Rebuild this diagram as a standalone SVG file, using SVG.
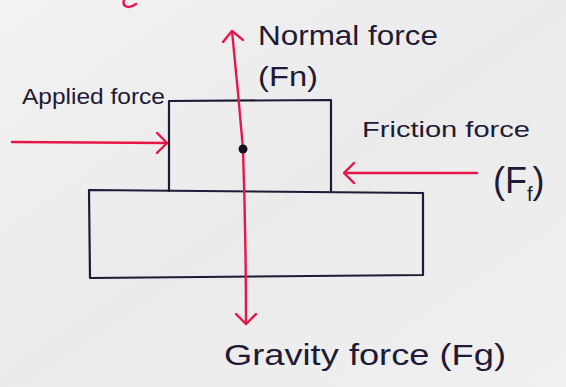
<svg xmlns="http://www.w3.org/2000/svg" width="566" height="387" viewBox="0 0 566 387">
  <defs>
    <marker id="head" viewBox="0 0 12 22" refX="11" refY="11" markerWidth="12" markerHeight="22" markerUnits="userSpaceOnUse" orient="auto">
      <path d="M0,0 L11,11 L0,22" fill="none" stroke="#e8174a" stroke-width="2.4" stroke-linecap="round" stroke-linejoin="round"/>
    </marker>
    <linearGradient id="paper" x1="0" y1="0" x2="1" y2="1">
      <stop offset="0" stop-color="#f2f2f2"/>
      <stop offset="0.5" stop-color="#ebebeb"/>
      <stop offset="1" stop-color="#f0f0f0"/>
    </linearGradient>
  </defs>
  <style>
    .blk { fill: none; stroke: #1f1a35; stroke-width: 2.2; stroke-linejoin: round; stroke-linecap: round; }
    .force { fill: none; stroke: #e8174a; stroke-width: 2.4; stroke-linecap: round; marker-end: url(#head); }
    .lbl { font-family: "Liberation Sans", "DejaVu Sans", sans-serif; fill: #1f1a35; }
  </style>
  <rect x="0" y="0" width="566" height="387" fill="url(#paper)"/>
  <path d="M124,0 C122,6 128,10 136,4" fill="none" stroke="#e8174a" stroke-width="2.4" stroke-linecap="round"/>

  <g id="base-block">
    <path class="blk" d="M89,190 L423,193 L423,275 L90,278 Z"/>
  </g>
  <g id="top-block">
    <path class="blk" d="M169,191 L169,101 L331,100 L331,191"/>
  </g>

  <g id="connectors">
    <path id="normal-force" class="force" d="M243,149 Q238,90 232,31"/>
    <path id="gravity-force" class="force" d="M243,149 Q246,240 246,324"/>
    <path id="applied-force" class="force" d="M12,142 L167,143"/>
    <path id="friction-force" class="force" d="M477,173 L344,173"/>
  </g>

  <g id="center-of-mass">
    <circle cx="243" cy="149" r="4.5" fill="#14101f"/>
  </g>

  <g id="labels">
    <text class="lbl" x="258" y="45" font-size="28" textLength="180" lengthAdjust="spacingAndGlyphs">Normal force</text>
    <text class="lbl" x="258" y="86" font-size="28" textLength="60" lengthAdjust="spacingAndGlyphs">(Fn)</text>
    <text class="lbl" x="22" y="104" font-size="22" textLength="143" lengthAdjust="spacingAndGlyphs">Applied force</text>
    <text class="lbl" x="362" y="137" font-size="22" textLength="168" lengthAdjust="spacingAndGlyphs">Friction force</text>
    <text class="lbl" x="493" y="193" font-size="36">(F<tspan font-size="20" dy="8">f</tspan><tspan dy="-8">)</tspan></text>
    <text class="lbl" x="224" y="365" font-size="30" textLength="282" lengthAdjust="spacingAndGlyphs">Gravity force (Fg)</text>
  </g>
</svg>
